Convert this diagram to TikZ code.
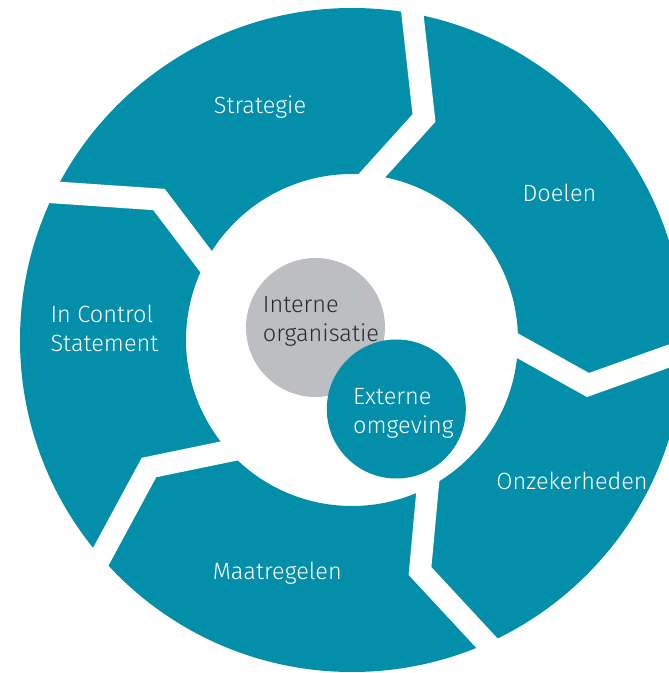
\documentclass[tikz,border=0pt]{standalone}
\usepackage{fontspec}
\setmainfont{Fira Sans Light}
\usetikzlibrary{calc}
\definecolor{ringteal}{HTML}{038EAA}
\definecolor{ringgrey}{HTML}{BDBEC2}
\definecolor{darktext}{HTML}{2A2A2A}
\begin{document}
\begin{tikzpicture}[x=1pt,y=1pt,
  lbl/.style={inner sep=0pt, text=white, font=\fontsize{23.5}{29}\selectfont, align=left},
  band/.style={draw=white, line width=22pt, line join=miter, miter limit=10},
  disc/.style={circle, inner sep=0pt, minimum size=139pt}]
\useasboundingbox (0,0) rectangle (669,673);
\clip (0,0) rectangle (669,673);
\coordinate (C) at (352,333);
\fill[ringteal, even odd rule] (C) circle[radius=332] (C) circle[radius=166];
% separating chevron bands
\foreach \ox/\oy/\kx/\ky/\ix/\iy [count=\n] in {
  412.5/658.5/424/555/371.6/497,
  683.6/322.2/588/288/518/327,
  490.5/26/420/102/427.5/183,
  99/113/149/205.5/226.5/221.5,
  56/480.5/159/473.5/207.5/409.5}{
  \coordinate (o\n) at (\ox,\oy);
  \coordinate (k\n) at (\kx,\ky);
  \coordinate (i\n) at (\ix,\iy);
  \draw[band] ($(k\n)!1.4!(o\n)$) -- (k\n) -- ($(k\n)!1.2!(i\n)$);
}
\node[disc, fill=ringgrey] (intern) at (315.5,345.5) {};
\node[disc, fill=ringteal] (extern) at (396.3,264) {};
% labels
\node[lbl, anchor=base] (strategie) at (260,559) {Strategie};
\node[lbl, anchor=base] (doelen) at (559.5,471.6) {Doelen};
\node[lbl, anchor=base] (onzeker) at (572,183.2) {Onzekerheden};
\node[lbl, anchor=base] (maatregel) at (277.3,93.6) {Maatregelen};
\node[lbl, anchor=base west] (ics) at (50.3,321) {In Control\\Statement};
\node[lbl, anchor=base west, text=darktext] (interntxt) at (262.7,331.3) {Interne\\organisatie};
\node[lbl, anchor=base west] (externtxt) at (353,239) {Externe\\omgeving};
\end{tikzpicture}
\end{document}
